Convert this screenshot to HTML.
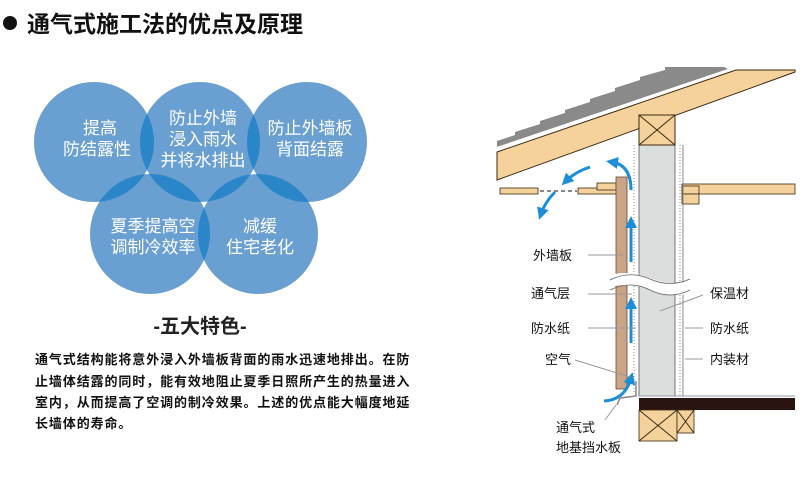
<!DOCTYPE html>
<html><head><meta charset="utf-8"><style>
html,body{margin:0;padding:0;background:#fff;}
svg{display:block;}
text{font-family:"Liberation Sans","Noto Sans CJK SC",sans-serif;}
</style></head><body>
<svg width="800" height="491" viewBox="0 0 800 491" xmlns="http://www.w3.org/2000/svg">
<defs>
<clipPath id="c1"><circle cx="94" cy="142" r="60"/></clipPath>
<clipPath id="c2"><circle cx="200" cy="142" r="60"/></clipPath>
<clipPath id="c3"><circle cx="307" cy="142" r="60"/></clipPath>
<clipPath id="c4"><circle cx="150" cy="234" r="60"/></clipPath>
<marker id="ah" viewBox="0 0 10 10" refX="5" refY="5" markerWidth="4" markerHeight="4" orient="auto"><path d="M0,0 L10,5 L0,10 z" fill="#1a8fd8"/></marker>
</defs>
<circle cx="10" cy="23" r="7" fill="#111"/>
<text x="27" y="32" font-size="23" font-weight="bold" fill="#111">通气式施工法的优点及原理</text>
<g fill="#6a9fd1">
<circle cx="94" cy="142" r="60"/><circle cx="200" cy="142" r="60"/><circle cx="307" cy="142" r="60"/>
<circle cx="150" cy="234" r="60"/><circle cx="258" cy="234" r="60"/>
</g>
<g fill="#2a86c8">
<circle cx="200" cy="142" r="60" clip-path="url(#c1)"/>
<circle cx="307" cy="142" r="60" clip-path="url(#c2)"/>
<circle cx="150" cy="234" r="60" clip-path="url(#c1)"/>
<circle cx="150" cy="234" r="60" clip-path="url(#c2)"/>
<circle cx="258" cy="234" r="60" clip-path="url(#c2)"/>
<circle cx="258" cy="234" r="60" clip-path="url(#c3)"/>
<circle cx="258" cy="234" r="60" clip-path="url(#c4)"/>
</g>
<g fill="#fff" font-size="17" text-anchor="middle">
<text x="100" y="134">提高</text><text x="97" y="155">防结露性</text>
<text x="203" y="124">防止外墙</text><text x="203" y="145">浸入雨水</text><text x="203" y="166">并将水排出</text>
<text x="310" y="134">防止外墙板</text><text x="310" y="155">背面结露</text>
<text x="153" y="232">夏季提高空</text><text x="153" y="253">调制冷效率</text>
<text x="260" y="232">减缓</text><text x="260" y="253">住宅老化</text>
</g>
<text x="200" y="333" font-size="20" font-weight="bold" fill="#222" text-anchor="middle">-五大特色-</text>
<g font-size="13" fill="#111" letter-spacing="0.9" font-weight="bold">
<text x="35" y="364">通气式结构能将意外浸入外墙板背面的雨水迅速地排出。在防</text>
<text x="35" y="386">止墙体结露的同时，能有效地阻止夏季日照所产生的热量进入</text>
<text x="35" y="407">室内，从而提高了空调的制冷效果。上述的优点能大幅度地延</text>
<text x="35" y="428">长墙体的寿命。</text>
</g>
<!-- roof shingles -->
<polygon points="497,141 515,135 515,132 540,124 540,121 565,113 565,110 590,102 590,99 615,91 615,88 640,80 640,77 665,70 665,67 724,67 728,69 497,147" fill="#8a8a8a"/>
<polygon points="497,147 728,69 735,69 497,151" fill="#fff"/>
<polygon points="497,152 736,70 795,70 795,72 497,180" fill="#f5d29c" stroke="#3a2a10" stroke-width="1"/>
<!-- soffit -->
<rect x="500" y="188" width="38" height="6" fill="#f5d29c" stroke="#3a2a10" stroke-width="0.8"/>
<line x1="540" y1="191" x2="577" y2="191" stroke="#888" stroke-width="2" stroke-dasharray="4,3"/>
<rect x="578" y="188" width="40" height="6" fill="#f5d29c" stroke="#3a2a10" stroke-width="0.8"/>
<rect x="597" y="183" width="19" height="7" fill="#f5d29c" stroke="#3a2a10" stroke-width="0.8"/>
<rect x="682" y="184" width="113" height="10" fill="#f5d29c" stroke="#3a2a10" stroke-width="0.8"/>
<rect x="682" y="186" width="17" height="8" fill="#f5d29c" stroke="#3a2a10" stroke-width="0.8"/>
<rect x="682" y="194" width="17" height="10" fill="#f5d29c" stroke="#3a2a10" stroke-width="0.8"/>
<!-- wall -->
<rect x="639" y="145" width="36" height="251" fill="#dcdedd" stroke="#555" stroke-width="0.8"/>
<rect x="639" y="115" width="36" height="30" fill="#f5d29c" stroke="#3a2a10" stroke-width="1"/>
<line x1="639" y1="115" x2="675" y2="145" stroke="#3a2a10"/><line x1="675" y1="115" x2="639" y2="145" stroke="#3a2a10"/>
<line x1="634" y1="145" x2="634" y2="392" stroke="#888" stroke-dasharray="1,2"/>
<line x1="680" y1="145" x2="680" y2="396" stroke="#888" stroke-dasharray="1,2"/>
<line x1="683" y1="145" x2="683" y2="396" stroke="#888"/>
<rect x="616" y="177" width="11" height="212" fill="#c9a487" stroke="#6a4a30" stroke-width="0.8"/>
<path d="M600,278 Q625,268 650,278 T700,278 L700,290 Q675,300 650,290 T600,290 Z" fill="#fff"/>
<path d="M610,280 Q630,270 650,279 T690,279 M610,290 Q630,280 650,290 T690,290" fill="none" stroke="#666" stroke-width="0.8"/>
<!-- floor -->
<line x1="639" y1="396" x2="795" y2="396" stroke="#999"/>
<rect x="639" y="398" width="156" height="12" fill="#2a1410"/>
<rect x="639" y="410" width="38" height="31" fill="#f5d29c" stroke="#3a2a10" stroke-width="0.8"/>
<line x1="639" y1="410" x2="677" y2="441" stroke="#3a2a10"/><line x1="677" y1="410" x2="639" y2="441" stroke="#3a2a10"/>
<rect x="677" y="410" width="17" height="23" fill="#f5d29c" stroke="#3a2a10" stroke-width="0.8"/>
<line x1="677" y1="410" x2="694" y2="433" stroke="#3a2a10"/><line x1="694" y1="410" x2="677" y2="433" stroke="#3a2a10"/>
<path d="M636,381 L636,396 L620,398 L617,405" fill="none" stroke="#888" stroke-width="1.5"/>
<g fill="none" stroke="#1a8fd8" stroke-width="3" marker-end="url(#ah)">
<path d="M631,190 Q631,165 612,162"/>
<path d="M590,167 Q575,172 566,181"/>
<path d="M555,192 Q545,202 541,214"/>
<line x1="631" y1="262" x2="631" y2="222"/>
<line x1="631" y1="343" x2="631" y2="303"/>
<path d="M604,401 Q625,400 631,378"/>
</g>
<g stroke="#999" stroke-width="1">
<line x1="588" y1="255" x2="623" y2="255"/>
<line x1="588" y1="294" x2="632" y2="294"/>
<line x1="588" y1="328" x2="636" y2="328"/>
<line x1="575" y1="360" x2="630" y2="377"/>
<line x1="703" y1="295" x2="660" y2="311"/>
<line x1="685" y1="328" x2="703" y2="328"/>
<line x1="685" y1="359" x2="703" y2="359"/>
<line x1="605" y1="420" x2="616" y2="405"/>
</g>
<g font-size="13" fill="#111">
<text x="533" y="260">外墙板</text>
<text x="531" y="298">通气层</text>
<text x="531" y="333">防水纸</text>
<text x="545" y="364">空气</text>
<text x="710" y="298">保温材</text>
<text x="710" y="333">防水纸</text>
<text x="710" y="364">内装材</text>
<text x="556" y="432">通气式</text>
<text x="556" y="452">地基挡水板</text>
</g>
</svg>
</body></html>
